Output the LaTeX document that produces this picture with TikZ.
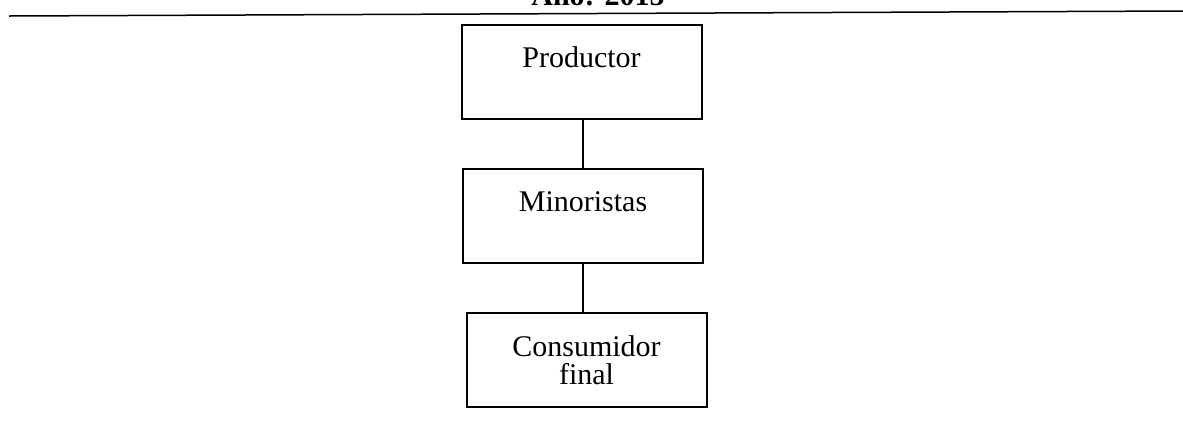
\documentclass[tikz,border=0pt]{standalone}
\usepackage{fontspec}
\setmainfont{Liberation Serif}
\usepackage{tikz}

\begin{document}
\begin{tikzpicture}[x=0.4pt,y=-0.4pt,
    stage/.style={draw,line width=0.8pt,minimum width=96pt,minimum height=37.6pt,
        text width=88pt,align=center,inner sep=2pt,
        font={\fontsize{12pt}{11.2pt}\selectfont}},
    link/.style={line width=0.8pt},
    ]
    \useasboundingbox (0,0) rectangle (1183,421);
    \clip (0,0) rectangle (1183,421);
    % titulo cortado arriba
    \node[anchor=base,font=\bfseries\fontsize{12pt}{14pt}\selectfont] (titulo) at (598,5) {Año: 2015};
    \draw[line width=0.6pt] (9,16) -- (1183,11);
    % cadena de distribucion
    \node[stage] (prod) at (581.5,71.5) {Productor\\ \mbox{}};
    \node[stage] (mino) at (583,216) {Minoristas\\ \mbox{}};
    \node[stage] (cons) at (586.5,360) {Consumidor\\ final};
    \draw[link] (prod.south -| mino.north) -- (mino.north);
    \draw[link] (mino.south) -- (mino.south |- cons.north);
\end{tikzpicture}
\end{document}
